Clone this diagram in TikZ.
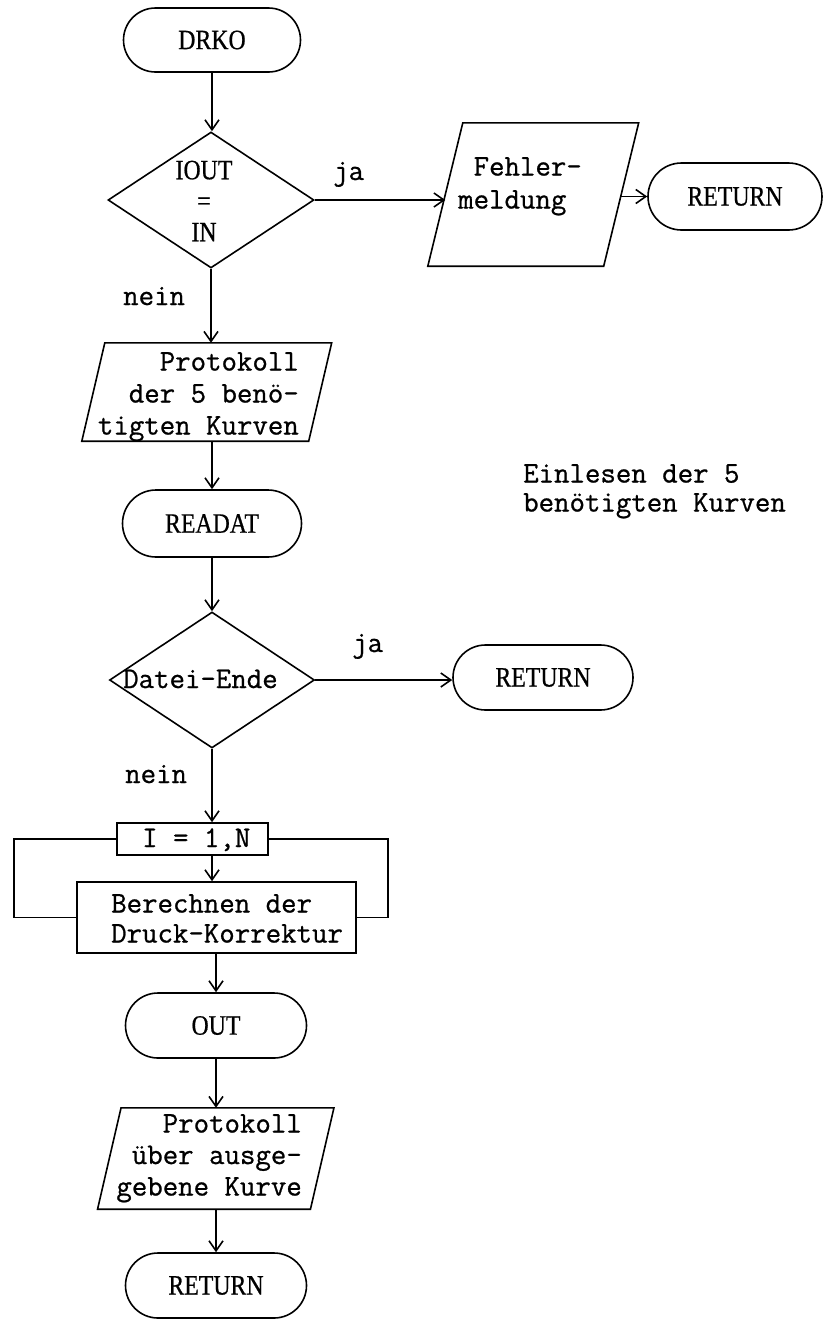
\documentclass[tikz,border=0pt]{standalone}
\usepackage{fontspec}
\setmainfont{Liberation Serif}
\newfontfamily\capsf{Liberation Serif}[FakeStretch=0.85,FakeBold=0.6]
\setmonofont{Latin Modern Mono}[FakeBold=0.8]
\usetikzlibrary{shapes.geometric,shapes.misc,arrows.meta}
\begin{document}
\begin{tikzpicture}[x=1pt,y=-1pt,
  ln/.style={line width=1.6pt},
  term/.style={rounded rectangle, draw, ln, inner sep=0pt, font=\capsf\fontsize{28}{31}\selectfont},
  dec/.style={diamond, draw, ln, inner sep=0pt},
  pbox/.style={rectangle, draw=none, inner sep=0pt},
  rbox/.style={rectangle, draw, ln, inner sep=0pt},
  tw/.style={inner sep=0pt, font=\ttfamily\fontsize{30}{31}\selectfont},
  sf/.style={inner sep=0pt, font=\capsf\fontsize{28}{31}\selectfont},
  arr/.style={ln, -{Straight Barb[length=10pt,width=14pt,line width=1.6pt]}},
  con/.style={ln}]
\useasboundingbox (0,0) rectangle (825,1320);

% terminals
\node[term, minimum width=177pt, minimum height=64pt] (drko) at (212,40) {DRKO};
\node[term, minimum width=174pt, minimum height=67pt] (r1) at (735,196.5) {RETURN};
\node[term, minimum width=179pt, minimum height=67pt] (readat) at (212,523.5) {READAT};
\node[term, minimum width=180pt, minimum height=65pt] (r2) at (543,677.5) {RETURN};
\node[term, minimum width=181pt, minimum height=65pt] (out) at (216,1025.5) {OUT};
\node[term, minimum width=181pt, minimum height=65pt] (r3) at (216,1285.5) {RETURN};

% decisions
\node[dec, minimum width=206pt, minimum height=136pt] (d1) at (211,200) {};
\node[sf, align=center] (d1t) at (204,201) {IOUT\\=\\IN};
\node[dec, minimum width=205pt, minimum height=136pt] (d2) at (212,680) {};
\node[tw, anchor=base west] (d2t) at (123,688) {Datei-Ende};

% parallelograms (midline boxes)
\node[pbox, minimum width=175.5pt, minimum height=143pt] (fehler) at (533.25,194.5) {};
\draw[ln] ([xshift=17.5pt]fehler.north west) -- ([xshift=17.5pt]fehler.north east)
  -- ([xshift=-17.5pt]fehler.south east) -- ([xshift=-17.5pt]fehler.south west) -- cycle;
\node[tw, anchor=north west, align=left, font=\ttfamily\fontsize{30}{33}\selectfont] (fehlert) at (458,157) {\hphantom{x}Fehler-\\meldung};

\node[pbox, minimum width=226.5pt, minimum height=98pt] (prot1) at (206.75,392) {};
\draw[ln] ([xshift=11.5pt]prot1.north west) -- ([xshift=11.5pt]prot1.north east)
  -- ([xshift=-11.5pt]prot1.south east) -- ([xshift=-11.5pt]prot1.south west) -- cycle;
\node[tw, anchor=north east, align=right, font=\ttfamily\fontsize{30}{32}\selectfont] (prot1t) at (299,352) {Protokoll\\der 5 benö-\\tigten Kurven};

\node[pbox, minimum width=212.5pt, minimum height=101pt] (prot2) at (215.75,1158.5) {};
\draw[ln] ([xshift=11.75pt]prot2.north west) -- ([xshift=11.75pt]prot2.north east)
  -- ([xshift=-11.75pt]prot2.south east) -- ([xshift=-11.75pt]prot2.south west) -- cycle;
\node[tw, anchor=north east, align=right, font=\ttfamily\fontsize{30}{31.5}\selectfont] (prot2t) at (302,1114) {Protokoll\\über ausge-\\gebene Kurve};

% loop
\node[rbox, minimum width=151pt, minimum height=32pt] (iloop) at (192.5,839) {};
\node[tw, anchor=base west] (iloopt) at (142,847) {I = 1,N};
\node[rbox, minimum width=279pt, minimum height=71pt] (calc) at (216.5,917.5) {};
\node[tw, anchor=north west, align=left, font=\ttfamily\fontsize{30}{30}\selectfont] (calct) at (111,894) {Berechnen der\\Druck-Korrektur};
\coordinate (lpl) at (14,839);
\coordinate (lpr) at (388,839);
\draw[con] (iloop.west) -- (iloop.west -| lpl) |- (calc.west);
\draw[con] (iloop.east) -- (iloop.east -| lpr) |- (calc.east);

% labels
\node[tw, anchor=base west] (ja1) at (333,180) {ja};
\node[tw, anchor=base west] (nein1) at (123,305) {nein};
\node[tw, anchor=base west] (ja2) at (352,652) {ja};
\node[tw, anchor=base west] (nein2) at (125,783) {nein};
\node[tw, anchor=north west, align=left, font=\ttfamily\fontsize{30}{29}\selectfont] (note) at (523,464) {Einlesen der 5\\benötigten Kurven};

% connectors
\draw[arr] (drko.south) -- (drko.south |- d1.north);
\draw[arr] (d1.east) -- (d1.east -| fehler.west);
\draw[arr] (r1.west -| fehler.east) -- (r1.west);
\draw[arr] (d1.south) -- (d1.south |- prot1.north);
\draw[arr] (readat.north |- prot1.south) -- (readat.north);
\draw[arr] (readat.south) -- (d2.north);
\draw[arr] (d2.east) -- (d2.east -| r2.west);
\draw[arr] (d2.south) -- (d2.south |- iloop.north);
\draw[arr] (iloop.south -| d2.south) -- (calc.north -| d2.south);
\draw[arr] (out.north |- calc.south) -- (out.north);
\draw[arr] (out.south) -- (out.south |- prot2.north);
\draw[arr] (r3.north |- prot2.south) -- (r3.north);
\end{tikzpicture}
\end{document}
